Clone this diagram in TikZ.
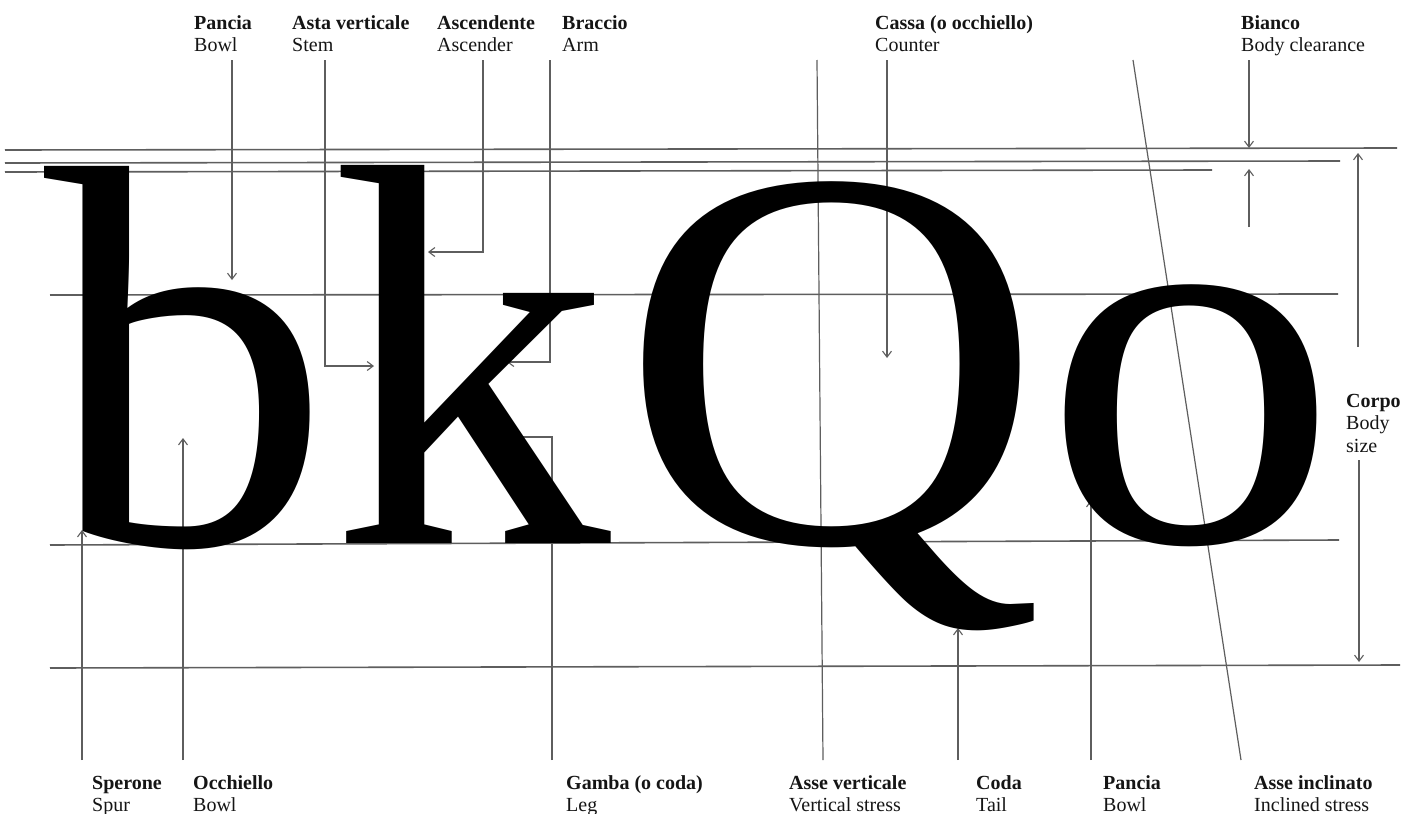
\documentclass[tikz,border=0pt]{standalone}
\usepackage{fontspec}
\setmainfont{Liberation Serif}
\newfontfamily\glyphb[FakeStretch=1.055]{Liberation Serif}
\newfontfamily\glyphk[FakeStretch=1.03]{Liberation Serif}
\newfontfamily\glyphQ[FakeStretch=1.079]{Liberation Serif}
\newfontfamily\glypho[FakeStretch=1.09]{Liberation Serif}
\usetikzlibrary{arrows.meta}
\definecolor{guide}{HTML}{5E5E5E}
\definecolor{labelink}{HTML}{151515}
\tikzset{
  guideline/.style={draw=guide, line width=1.6pt},
  callout/.style={draw=guide, line width=1.2pt},
  calloutarrow/.style={callout, -{Straight Barb[length=6pt,width=9pt,line width=1.1pt]}},
  glyph/.style={inner sep=0pt, anchor=base west, text=black},
  lbl/.style={font=\fontsize{20}{22.5}\selectfont, align=left, inner sep=0pt, anchor=north west, text=labelink},
}
\newcommand{\glyphsize}{\fontsize{545}{545}\selectfont}
\begin{document}
\begin{tikzpicture}[x=1pt,y=-1pt]
\fill[white] (0,0) rectangle (1417,814);
\useasboundingbox (0,0) rectangle (1417,814);

% guide lines
\coordinate (g1a) at (5,150);  \coordinate (g1b) at (1397,148);
\coordinate (g2a) at (5,163);  \coordinate (g2b) at (1340,161);
\coordinate (g3a) at (5,172);  \coordinate (g3b) at (1212,170);
\coordinate (g4a) at (50,295); \coordinate (g4b) at (1338,294);
\coordinate (g5a) at (50,545); \coordinate (g5b) at (1339,540);
\coordinate (g6a) at (50,668); \coordinate (g6b) at (1400,665);
\draw[guideline] (g1a) -- (g1b);
\draw[guideline] (g2a) -- (g2b);
\draw[guideline] (g3a) -- (g3b);
\draw[guideline] (g4a) -- (g4b);
\draw[guideline] (g5a) -- (g5b);
\draw[guideline] (g6a) -- (g6b);

% callouts from the top
\coordinate (pt1) at (232,60);  \coordinate (pt2) at (232,280);
\draw[calloutarrow] (pt1) -- (pt2);
\coordinate (st1) at (325,60);  \coordinate (st2) at (374,366);
\draw[calloutarrow] (st1) |- (st2);
\coordinate (as1) at (483,60);  \coordinate (as2) at (428,252);
\draw[calloutarrow] (as1) |- (as2);
\coordinate (ar1) at (550,60);  \coordinate (ar2) at (507,362);
\draw[calloutarrow] (ar1) |- (ar2);
\coordinate (co1) at (887,60);  \coordinate (co2) at (887,358);
\draw[calloutarrow] (co1) -- (co2);
\coordinate (vs1) at (817,60);  \coordinate (vs2) at (823,760);
\draw[callout] (vs1) -- (vs2);
\coordinate (bi1) at (1249,60);  \coordinate (bi2) at (1249,148);
\draw[calloutarrow] (bi1) -- (bi2);
\coordinate (bi3) at (1249,227); \coordinate (bi4) at (1249,169);
\draw[calloutarrow] (bi3) -- (bi4);
\coordinate (in1) at (1133,60); \coordinate (in2) at (1241,760);
\draw[callout] (in1) -- (in2);
\coordinate (bs1) at (1358,347); \coordinate (bs2) at (1358,153);
\draw[calloutarrow] (bs1) -- (bs2);
\coordinate (bs3) at (1359,460); \coordinate (bs4) at (1359,662);
\draw[calloutarrow] (bs3) -- (bs4);

% callouts from the bottom
\coordinate (sp1) at (82,760);  \coordinate (sp2) at (82,530);
\draw[calloutarrow] (sp1) -- (sp2);
\coordinate (oc1) at (183,760); \coordinate (oc2) at (183,438);
\draw[calloutarrow] (oc1) -- (oc2);
\coordinate (ga1) at (552,760); \coordinate (ga2) at (513,437);
\draw[calloutarrow] (ga1) |- (ga2);
\coordinate (cd1) at (958,760); \coordinate (cd2) at (958,628);
\draw[calloutarrow] (cd1) -- (cd2);
\coordinate (pb1) at (1091,760); \coordinate (pb2) at (1091,500);
\draw[calloutarrow] (pb1) -- (pb2);

% the letters
\node[glyph, font=\glyphb\glyphsize] (gb) at (44,544) {b};
\node[glyph, font=\glyphk\glyphsize] (gk) at (330,543) {k};
\node[glyph, font=\glyphQ\glyphsize] (gQ) at (619,542) {Q};
\node[glyph, font=\glypho\glyphsize] (go) at (1042,541) {o};

% labels (top)
\node[lbl] (lPanciaT) at (194,14) {\rule{0pt}{15pt}\textbf{Pancia}\\Bowl};
\node[lbl] (lAsta) at (292,14) {\rule{0pt}{15pt}\textbf{Asta verticale}\\Stem};
\node[lbl] (lAsc) at (437,14) {\rule{0pt}{15pt}\textbf{Ascendente}\\Ascender};
\node[lbl] (lBraccio) at (562,14) {\rule{0pt}{15pt}\textbf{Braccio}\\Arm};
\node[lbl] (lCassa) at (875,14) {\rule{0pt}{15pt}\textbf{Cassa (o occhiello)}\\Counter};
\node[lbl] (lBianco) at (1241,14) {\rule{0pt}{15pt}\textbf{Bianco}\\Body clearance};
\node[lbl] (lCorpo) at (1346,392) {\rule{0pt}{15pt}\textbf{Corpo}\\Body\\size};

% labels (bottom)
\node[lbl] (lSperone) at (92,774) {\rule{0pt}{15pt}\textbf{Sperone}\\Spur};
\node[lbl] (lOcchiello) at (193,774) {\rule{0pt}{15pt}\textbf{Occhiello}\\Bowl};
\node[lbl] (lGamba) at (566,774) {\rule{0pt}{15pt}\textbf{Gamba (o coda)}\\Leg};
\node[lbl] (lAsseV) at (789,774) {\rule{0pt}{15pt}\textbf{Asse verticale}\\Vertical stress};
\node[lbl] (lCoda) at (976,774) {\rule{0pt}{15pt}\textbf{Coda}\\Tail};
\node[lbl] (lPanciaB) at (1103,774) {\rule{0pt}{15pt}\textbf{Pancia}\\Bowl};
\node[lbl] (lAsseI) at (1254,774) {\rule{0pt}{15pt}\textbf{Asse inclinato}\\Inclined stress};
\end{tikzpicture}
\end{document}
